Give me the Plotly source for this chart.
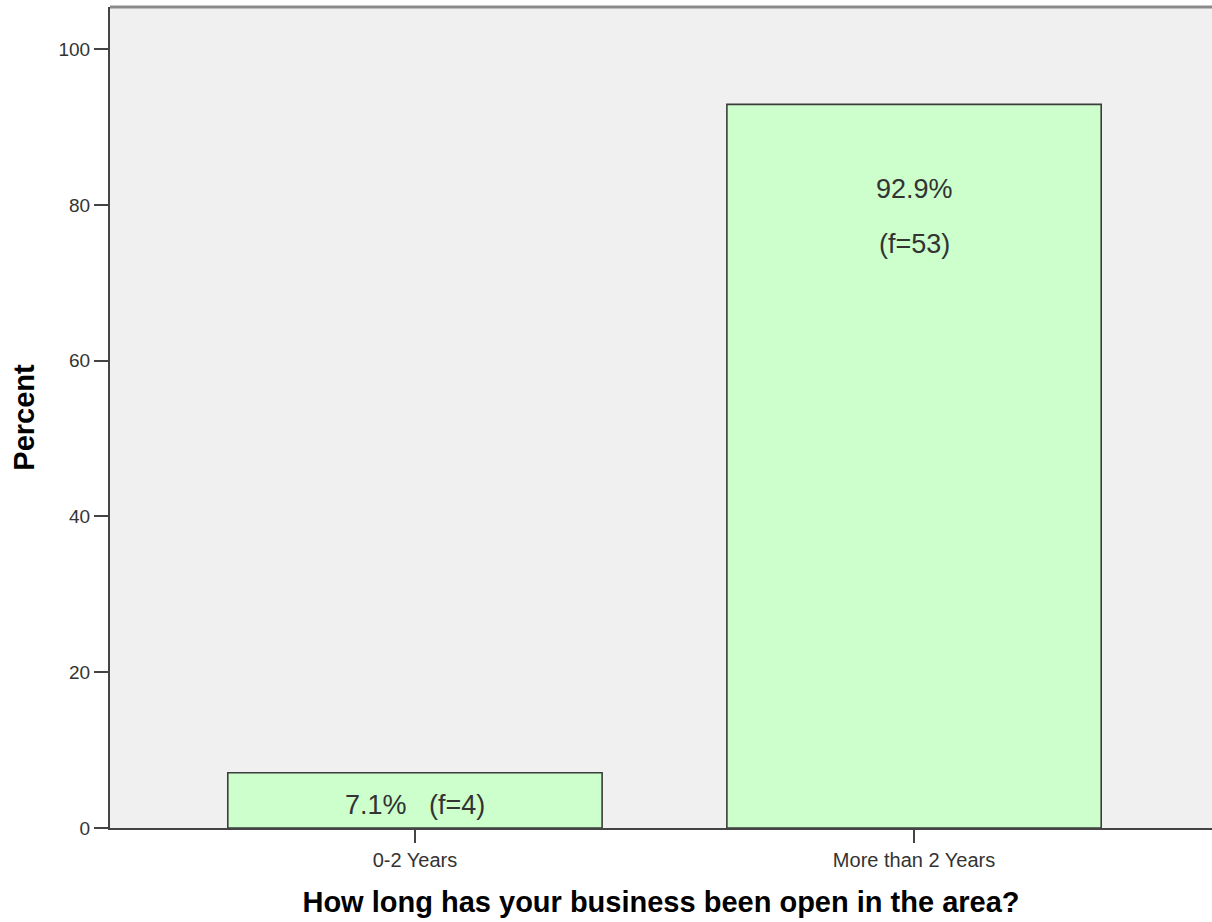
import plotly.graph_objects as go

# data
categories = ["0-2 Years", "More than 2 Years"]
percents = [7.1, 92.9]
counts = [4, 53]
y_ticks = [0, 20, 40, 60, 80, 100]

FONT = "Liberation Sans, Arial, sans-serif"

fig = go.Figure()

fig.add_trace(go.Bar(
    x=categories, y=percents,
    width=0.75,
    marker=dict(color="#CCFFCC", line=dict(color="#3c3c3c", width=1.6)),
    hoverinfo="skip",
    showlegend=False,
))

# labels inside the bars
for cat, pct, n in zip(categories, percents, counts):
    if pct > 50:
        fig.add_annotation(x=cat, y=pct, yref="y", yanchor="middle", yshift=-85,
                           text=f"{pct:.1f}%", showarrow=False,
                           font=dict(family=FONT, size=27, color="#333333"))
        fig.add_annotation(x=cat, y=pct, yref="y", yanchor="middle", yshift=-140,
                           text=f"(f={n})", showarrow=False,
                           font=dict(family=FONT, size=27, color="#333333"))
    else:
        fig.add_annotation(x=cat, y=pct / 2, yref="y", yanchor="middle", yshift=-5,
                           text=f"{pct:.1f}%\u00a0\u00a0\u00a0(f={n})", showarrow=False,
                           font=dict(family=FONT, size=27, color="#333333"))

# grey frame line along the top of the plot area
fig.add_shape(type="line", xref="paper", yref="paper", x0=0, x1=1, y0=1, y1=1,
              line=dict(color="#8a8a8a", width=3))

fig.update_layout(
    width=1212, height=922,
    margin=dict(l=110, r=0, t=7, b=94),
    paper_bgcolor="white",
    plot_bgcolor="#F0F0F0",
    font=dict(family=FONT, color="#333333"),
    xaxis=dict(
        range=[-0.611, 1.597],
        showgrid=False, zeroline=False,
        showline=True, linecolor="#444444", linewidth=2,
        ticks="outside", ticklen=13, tickwidth=2, tickcolor="#444444",
        tickfont=dict(family=FONT, size=20, color="#333333"),
        title=dict(text="<b>How long has your business been open in the area?</b>",
                   font=dict(family=FONT, size=29, color="black"), standoff=22),
    ),
    yaxis=dict(
        range=[0, 105.4],
        tickvals=y_ticks,
        showgrid=False, zeroline=False,
        showline=True, linecolor="#444444", linewidth=2,
        ticks="outside", ticklen=14, tickwidth=2, tickcolor="#444444",
        tickfont=dict(family=FONT, size=19, color="#333333"),
        title=dict(text="<b>Percent</b>",
                   font=dict(family=FONT, size=29, color="black"), standoff=15),
    ),
)

# drop the default page margin so the figure sits at the window's top-left corner
fig.write_html("out.html",
               config={"displayModeBar": False},
               post_script="document.body.style.margin='0';document.body.style.overflow='hidden';")
